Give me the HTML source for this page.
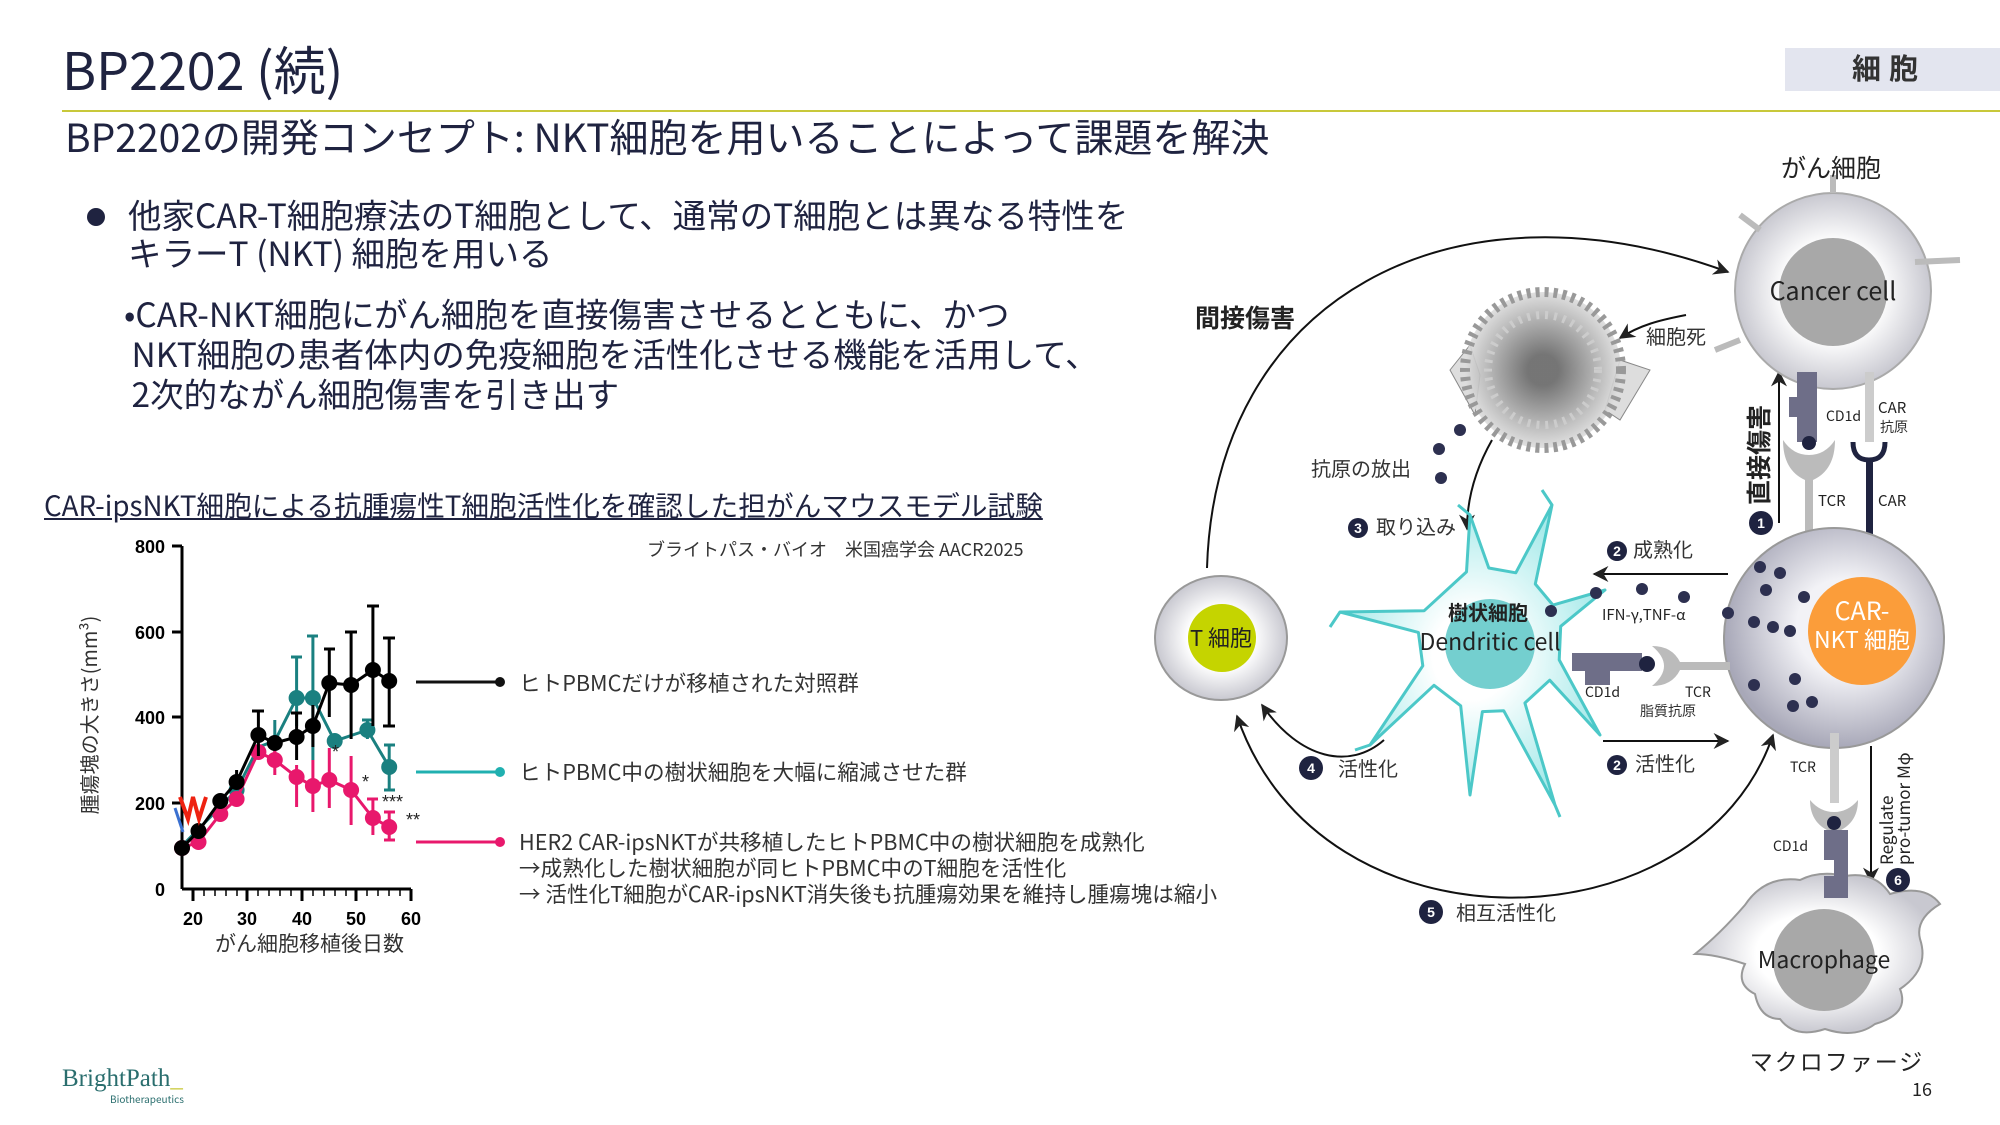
<!DOCTYPE html>
<html><head><meta charset="utf-8">
<style>
body{margin:0;width:2000px;height:1125px;background:#fff;overflow:hidden;position:relative;font-family:"Noto Sans CJK JP","Liberation Sans",sans-serif;color:#1f2340}
.t{position:absolute;white-space:nowrap;line-height:1}
</style></head><body>
<div class="t" style="left:62px;top:42px;font-size:52px;">BP2202 (続)</div>
<div style="position:absolute;left:1785px;top:48px;width:215px;height:43px;background:#e3e5ef"></div>
<div class="t" style="left:1852px;top:53px;font-size:29px;letter-spacing:8px;font-weight:bold;color:#333">細胞</div>
<div style="position:absolute;left:62px;top:110px;width:1938px;height:2px;background:#c8c83a"></div>
<div class="t" style="left:65px;top:117px;font-size:39px;">BP2202の開発コンセプト: NKT細胞を用いることによって課題を解決</div>
<div style="position:absolute;left:87px;top:208px;width:18px;height:18px;border-radius:50%;background:#1f2340"></div>
<div class="t" style="left:128px;top:195px;font-size:33.5px;line-height:38px;">他家CAR-T細胞療法のT細胞として、通常のT細胞とは異なる特性を<br>キラーT (NKT) 細胞を用いる</div>
<div class="t" style="left:124px;top:293px;font-size:33.5px;line-height:40px;">•CAR-NKT細胞にがん細胞を直接傷害させるとともに、かつ<br>&nbsp;NKT細胞の患者体内の免疫細胞を活性化させる機能を活用して、<br>&nbsp;2次的ながん細胞傷害を引き出す</div>
<div class="t" style="left:44px;top:491px;font-size:27.7px;text-decoration:underline;">CAR-ipsNKT細胞による抗腫瘍性T細胞活性化を確認した担がんマウスモデル試験</div>
<div class="t" style="left:647px;top:540px;font-size:18px;color:#333">ブライトパス・バイオ　米国癌学会 AACR2025</div>
<div class="t" style="left:519px;top:672px;font-size:21.6px;color:#333">ヒトPBMCだけが移植された対照群</div>
<div class="t" style="left:519px;top:761px;font-size:21.6px;color:#333">ヒトPBMC中の樹状細胞を大幅に縮減させた群</div>
<div class="t" style="left:519px;top:829px;font-size:21.6px;color:#333;line-height:26px">HER2 CAR-ipsNKTが共移植したヒトPBMC中の樹状細胞を成熟化<br>→成熟化した樹状細胞が同ヒトPBMC中のT細胞を活性化<br>→ 活性化T細胞がCAR-ipsNKT消失後も抗腫瘍効果を維持し腫瘍塊は縮小</div>
<div class="t" style="left:215px;top:933px;font-size:21px;color:#333">がん細胞移植後日数</div>
<div class="t" style="left:62px;top:1066px;font-size:25px;color:#2a6e6e;font-family:'Liberation Serif',serif">BrightPath<span style="color:#c8c83a">_</span></div>
<div class="t" style="left:110px;top:1094px;font-size:10px;color:#2a6e6e">Biotherapeutics</div>
<div class="t" style="left:1912px;top:1080px;font-size:18px;color:#222">16</div>

<svg width="2000" height="1125" style="position:absolute;left:0;top:0" xmlns="http://www.w3.org/2000/svg">
<defs>
<marker id="ah" viewBox="0 0 10 10" refX="9" refY="5" markerWidth="8" markerHeight="8" orient="auto-start-reverse"><path d="M0,0L10,5L0,10L3,5z" fill="#222"/></marker>
<radialGradient id="gc" cx="50%" cy="50%" r="50%"><stop offset="0.5" stop-color="#fff"/><stop offset="1" stop-color="#c8c8d0"/></radialGradient>
<radialGradient id="gn" cx="55%" cy="45%" r="55%"><stop offset="0.4" stop-color="#f2f2f6"/><stop offset="1" stop-color="#a8a8b8"/></radialGradient>
<radialGradient id="gd" cx="50%" cy="50%" r="50%"><stop offset="0.3" stop-color="#fff"/><stop offset="1" stop-color="#a8eaea"/></radialGradient>
<radialGradient id="gx" cx="50%" cy="50%" r="50%"><stop offset="0.2" stop-color="#666"/><stop offset="1" stop-color="#ddd"/></radialGradient>
</defs>
<g font-family="Liberation Sans,sans-serif" font-weight="bold" font-size="18" fill="#000">
<line x1="182" y1="546" x2="182" y2="889" stroke="#000" stroke-width="3"/>
<line x1="182" y1="889" x2="411" y2="889" stroke="#000" stroke-width="3"/>
<g stroke="#000" stroke-width="3">
<line x1="172" y1="546" x2="182" y2="546"/><line x1="172" y1="632" x2="182" y2="632"/><line x1="172" y1="717" x2="182" y2="717"/><line x1="172" y1="803" x2="182" y2="803"/>
<line x1="193" y1="889" x2="193" y2="901"/><line x1="247" y1="889" x2="247" y2="901"/><line x1="302" y1="889" x2="302" y2="901"/><line x1="356" y1="889" x2="356" y2="901"/><line x1="411" y1="889" x2="411" y2="901"/>
</g>
<g stroke="#000" stroke-width="1.5">
<path d="M204 889v7M215 889v7M226 889v7M237 889v7M258 889v7M269 889v7M280 889v7M291 889v7M313 889v7M324 889v7M335 889v7M346 889v7M367 889v7M378 889v7M389 889v7M400 889v7"/>
</g>
<text x="165" y="553" text-anchor="end">800</text><text x="165" y="639" text-anchor="end">600</text><text x="165" y="724" text-anchor="end">400</text><text x="165" y="810" text-anchor="end">200</text><text x="165" y="896" text-anchor="end">0</text>
<text x="193" y="925" text-anchor="middle">20</text><text x="247" y="925" text-anchor="middle">30</text><text x="302" y="925" text-anchor="middle">40</text><text x="356" y="925" text-anchor="middle">50</text><text x="411" y="925" text-anchor="middle">60</text>
</g>
<text transform="translate(97,715) rotate(-90)" text-anchor="middle" font-size="20" fill="#333" font-family="Noto Sans CJK JP,sans-serif">腫瘍塊の大きさ(mm³)</text>
<g stroke="#1a8080" stroke-width="3" fill="none">
<path d="M296.6 726V657M291 657h11M312.9 760V636M307 636h11M367.4 739V720M362 720h11M389.2 790V745M384 745h11M384 790h11M274.8 760V720"/>
<polyline points="182,846 198.5,829 220.3,807 236.6,790 258.4,747 274.8,741 296.6,698 312.9,698 334.7,741 367.4,730 389.2,767"/>
</g>
<g fill="#1a8080"><circle cx="296.6" cy="698" r="8"/><circle cx="312.9" cy="698" r="8"/><circle cx="334.7" cy="741" r="8"/><circle cx="367.4" cy="730" r="8"/><circle cx="389.2" cy="767" r="8"/><circle cx="236.6" cy="790" r="8"/></g>
<g stroke="#e8186c" stroke-width="3" fill="none">
<path d="M296.6 807V765M312.9 812V760M329.3 808V748M351.1 825V756M372.9 835V799M367 799h11M389.2 840V812M384 812h11M384 840h11M274.8 775V745"/>
<polyline points="182,848 198.5,842 220.3,814 236.6,799 258.4,752 274.8,760 296.6,777 312.9,786 329.3,780 351.1,790 372.9,818 389.2,827"/>
</g>
<g fill="#e8186c"><circle cx="182" cy="848" r="8"/><circle cx="198.5" cy="842" r="8"/><circle cx="220.3" cy="814" r="8"/><circle cx="236.6" cy="799" r="8"/><circle cx="258.4" cy="752" r="8"/><circle cx="274.8" cy="760" r="8"/><circle cx="296.6" cy="777" r="8"/><circle cx="312.9" cy="786" r="8"/><circle cx="329.3" cy="780" r="8"/><circle cx="351.1" cy="790" r="8"/><circle cx="372.9" cy="818" r="8"/><circle cx="389.2" cy="827" r="8"/></g>
<g stroke="#000" stroke-width="3" fill="none">
<path d="M258.4 756V711M252 711h12M296.6 760V713M291 713h11M312.9 747V705M329.3 717V649M324 649h11M351.1 739V632M345 632h12M372.9 726V606M367 606h12M389.2 726V638M383 638h12M383 726h12M236.6 775V770"/>
<polyline points="182,848 198.5,831 220.3,801 236.6,782 258.4,735 274.8,743 296.6,737 312.9,726 329.3,683 351.1,685 372.9,670 389.2,681"/>
</g>
<g fill="#000"><circle cx="182" cy="848" r="8"/><circle cx="198.5" cy="831" r="8"/><circle cx="220.3" cy="801" r="8"/><circle cx="236.6" cy="782" r="8"/><circle cx="258.4" cy="735" r="8"/><circle cx="274.8" cy="743" r="8"/><circle cx="296.6" cy="737" r="8"/><circle cx="312.9" cy="726" r="8"/><circle cx="329.3" cy="683" r="8"/><circle cx="351.1" cy="685" r="8"/><circle cx="372.9" cy="670" r="8"/><circle cx="389.2" cy="681" r="8"/></g>
<path d="M180 797l8 22 5-22 6 22 7-22" stroke="#e21" stroke-width="4" fill="none"/>
<path d="M175 808l8 24" stroke="#3a70d0" stroke-width="3"/>
<g font-size="18" fill="#222" font-family="Liberation Sans,sans-serif"><text x="332" y="758">*</text><text x="362" y="788">*</text><text x="382" y="808">***</text><text x="406" y="826">**</text></g>
<g stroke-width="3"><line x1="416" y1="682" x2="500" y2="682" stroke="#111"/><line x1="416" y1="772" x2="500" y2="772" stroke="#20b0b0"/><line x1="416" y1="842" x2="500" y2="842" stroke="#e8186c"/></g>
<circle cx="500" cy="682" r="5" fill="#111"/><circle cx="500" cy="772" r="5" fill="#20b0b0"/><circle cx="500" cy="842" r="5" fill="#e8186c"/>

<g fill="none" stroke="#111" stroke-width="2">
<path d="M1207 568 C1215 300 1450 170 1728 272" marker-end="url(#ah)"/>
<path d="M1237 716 C1320 960 1700 950 1773 735" marker-start="url(#ah)" marker-end="url(#ah)"/>
<path d="M1384 740 C1350 770 1300 760 1262 705" marker-end="url(#ah)"/>
<path d="M1728 574 H1594" marker-end="url(#ah)"/>
<path d="M1603 741 H1728" marker-end="url(#ah)"/>
<path d="M1686 315 C1660 320 1640 325 1620 338" marker-end="url(#ah)"/>
<path d="M1492 440 C1475 470 1467 500 1467 529" marker-end="url(#ah)"/>
<path d="M1779 523 V372" marker-end="url(#ah)"/>
<path d="M1871 746 V882" marker-end="url(#ah)"/>
</g>
<g>
<path d="M1450 370 l20 -25 l10 30 l-5 40z M1620 360 l30 10 l-30 50 l-15 -10z" fill="#ddd" stroke="#888"/>
<circle cx="1543" cy="370" r="78" fill="url(#gx)" opacity="0.9"/>
<circle cx="1543" cy="370" r="78" fill="none" stroke="#999" stroke-width="10" stroke-dasharray="4 5"/>
<circle cx="1543" cy="370" r="55" fill="none" stroke="#ccc" stroke-width="8" stroke-dasharray="3 6"/>
</g>
<circle cx="1833" cy="291" r="98" fill="url(#gc)" stroke="#aaa" stroke-width="2"/>
<path d="M1915 262 l45 -2 M1740 340 l-25 10 M1833 193 l0 -18 M1760 230 l-20 -15" stroke="#bbb" stroke-width="6"/>
<circle cx="1833" cy="292" r="54" fill="#a8a8a8"/>
<path d="M1797 372 h20 v70 h-20 v-25 h-8 v-20 h8z" fill="#6e6e88"/>
<path d="M1783 440 q0 30 22 40 v58 h8 v-58 q22 -10 22 -40 q-10 15 -26 15 q-16 0 -26 -15z" fill="#bbb"/>
<circle cx="1809" cy="443" r="7" fill="#1f2340"/>
<rect x="1865" y="372" width="9" height="70" fill="#ccc"/>
<path d="M1853 442 q0 18 16 18 q16 0 16 -18" fill="none" stroke="#1f2340" stroke-width="5"/>
<rect x="1866" y="460" width="7" height="75" fill="#1f2340"/>
<circle cx="1834" cy="638" r="110" fill="url(#gn)" stroke="#999" stroke-width="2"/>
<circle cx="1862" cy="631" r="54" fill="#fb9d3a"/>
<g fill="#2d3050"><circle cx="1760" cy="567" r="6"/><circle cx="1780" cy="573" r="6"/><circle cx="1766" cy="590" r="6"/><circle cx="1804" cy="597" r="6"/><circle cx="1754" cy="622" r="6"/><circle cx="1773" cy="627" r="6"/><circle cx="1790" cy="631" r="6"/><circle cx="1754" cy="685" r="6"/><circle cx="1795" cy="679" r="6"/><circle cx="1793" cy="706" r="6"/><circle cx="1812" cy="702" r="6"/><circle cx="1728" cy="613" r="6"/></g>
<rect x="1830" y="733" width="9" height="70" fill="#ccc"/>
<path d="M1810 800 q0 25 24 33 q24 -8 24 -33 q-10 12 -24 12 q-14 0 -24 -12z" fill="#bbb"/>
<circle cx="1834" cy="823" r="7" fill="#1f2340"/>
<g fill="url(#gc)" stroke="#999" stroke-width="2">
<path d="M1745 905 q20 -30 55 -25 q20 -10 45 -4 q30 -5 45 18 q35 -10 50 10 q-25 15 -20 35 q10 30 -20 50 q10 25 -25 35 q-20 15 -50 5 q-30 10 -45 -10 q-20 0 -25 -25 q-20 -10 -10 -30 q-30 -10 -50 -10 q25 -20 50 -49z"/>
</g>
<circle cx="1824" cy="960" r="51" fill="#a8a8a8"/>
<path d="M1824 830 h24 v68 h-24 v-22 h10 v-16 h-10z" fill="#6e6e88"/>
<ellipse cx="1221" cy="638" rx="66" ry="62" fill="url(#gc)" stroke="#999" stroke-width="2"/>
<circle cx="1222" cy="638" r="34" fill="#c5d400"/>
<path d="M1466.5 571.9 L1470 515 L1488.8 568 L1515.8 572.8 L1552 505 L1535.3 584 L1553 605.1 L1605 590 L1560.7 626.3 L1559.2 659.9 L1600 735 L1549.7 680.2 L1524.9 703 L1555 805 L1503.7 710.7 L1482.4 711.6 L1470 795 L1460.7 705.8 L1434 685.3 L1370 745 L1422.8 665.8 L1418.4 632.4 L1340 612 L1424.2 610.7 Z" fill="url(#gd)" stroke="#4cc8c8" stroke-width="3" stroke-linejoin="round"/>
<path d="M1552 505 l-10 -15 M1470 515 l-12 -10 M1340 612 l-10 15 M1370 745 l-15 5 M1555 805 l5 12" stroke="#4cc8c8" stroke-width="3"/>
<circle cx="1490" cy="644" r="45" fill="#74cfcf"/>
<path d="M1572 653 h70 v18 h-70z M1585 671 h25 v14 h-25z" fill="#6e6e88"/>
<path d="M1652 646 q20 0 28 16 h50 v8 h-50 q-8 16 -28 16 q12 -10 12 -20 q0 -10 -12 -20z" fill="#bbb"/>
<circle cx="1647" cy="664" r="8" fill="#1f2340"/>
<g fill="#2d3050"><circle cx="1596" cy="593" r="6"/><circle cx="1642" cy="589" r="6"/><circle cx="1684" cy="597" r="6"/><circle cx="1551" cy="611" r="6"/><circle cx="1439" cy="449" r="6"/><circle cx="1460" cy="430" r="6"/><circle cx="1441" cy="478" r="6"/></g>
<g fill="#1f2340"><circle cx="1761" cy="523" r="12"/><circle cx="1898" cy="880" r="12"/><circle cx="1311" cy="768" r="12"/><circle cx="1431" cy="912" r="12"/><circle cx="1617" cy="551" r="10"/><circle cx="1617" cy="765" r="10"/><circle cx="1358" cy="528" r="10"/></g>
<g fill="#fff" font-size="14" text-anchor="middle" font-family="Liberation Sans,sans-serif" font-weight="bold"><text x="1761" y="528">1</text><text x="1898" y="885">6</text><text x="1311" y="773">4</text><text x="1431" y="917">5</text><text x="1617" y="556">2</text><text x="1617" y="770">2</text><text x="1358" y="533">3</text></g>
<g font-family="Noto Sans CJK JP,Liberation Sans,sans-serif" fill="#333">
<text x="1781" y="177" font-size="25" fill="#222">がん細胞</text>
<text x="1833" y="300" font-size="25" text-anchor="middle" fill="#222">Cancer cell</text>
<text x="1195" y="327" font-size="25" font-weight="bold" fill="#222">間接傷害</text>
<text x="1646" y="344" font-size="20">細胞死</text>
<text x="1311" y="476" font-size="20">抗原の放出</text>
<text x="1376" y="534" font-size="20">取り込み</text>
<text x="1633" y="557" font-size="20">成熟化</text>
<text x="1635" y="771" font-size="20">活性化</text>
<text x="1338" y="776" font-size="20">活性化</text>
<text x="1456" y="920" font-size="20">相互活性化</text>
<text x="1602" y="620" font-size="15" fill="#222">IFN-γ,TNF-α</text>
<text x="1488" y="620" font-size="20" text-anchor="middle" font-weight="bold" fill="#222">樹状細胞</text>
<text x="1490" y="650" font-size="23" text-anchor="middle" fill="#222">Dendritic cell</text>
<text x="1221" y="646" font-size="22" text-anchor="middle" fill="#222">T 細胞</text>
<text x="1862" y="620" font-size="25" text-anchor="middle" fill="#fff">CAR-</text>
<text x="1862" y="648" font-size="23" text-anchor="middle" fill="#fff">NKT 細胞</text>
<text x="1824" y="968" font-size="23" text-anchor="middle" fill="#222">Macrophage</text>
<text x="1837" y="1070" font-size="23" text-anchor="middle" fill="#222" letter-spacing="2">マクロファージ</text>
<text x="1826" y="421" font-size="14" fill="#222">CD1d</text>
<text x="1878" y="413" font-size="15" fill="#222">CAR</text>
<text x="1880" y="432" font-size="14">抗原</text>
<text x="1818" y="506" font-size="15" fill="#222">TCR</text>
<text x="1878" y="506" font-size="15" fill="#222">CAR</text>
<text x="1585" y="697" font-size="14" fill="#222">CD1d</text>
<text x="1685" y="697" font-size="14" fill="#222">TCR</text>
<text x="1640" y="716" font-size="14">脂質抗原</text>
<text x="1790" y="772" font-size="14" fill="#222">TCR</text>
<text x="1773" y="851" font-size="14" fill="#222">CD1d</text>
<text transform="translate(1768,505) rotate(-90)" font-size="25" font-weight="bold" fill="#222">直接傷害</text>
<text transform="translate(1893,865) rotate(-90)" font-size="17" fill="#222">Regulate</text>
<text transform="translate(1910,865) rotate(-90)" font-size="17" fill="#222">pro-tumor Mφ</text>
</g>
</svg>
</body></html>
